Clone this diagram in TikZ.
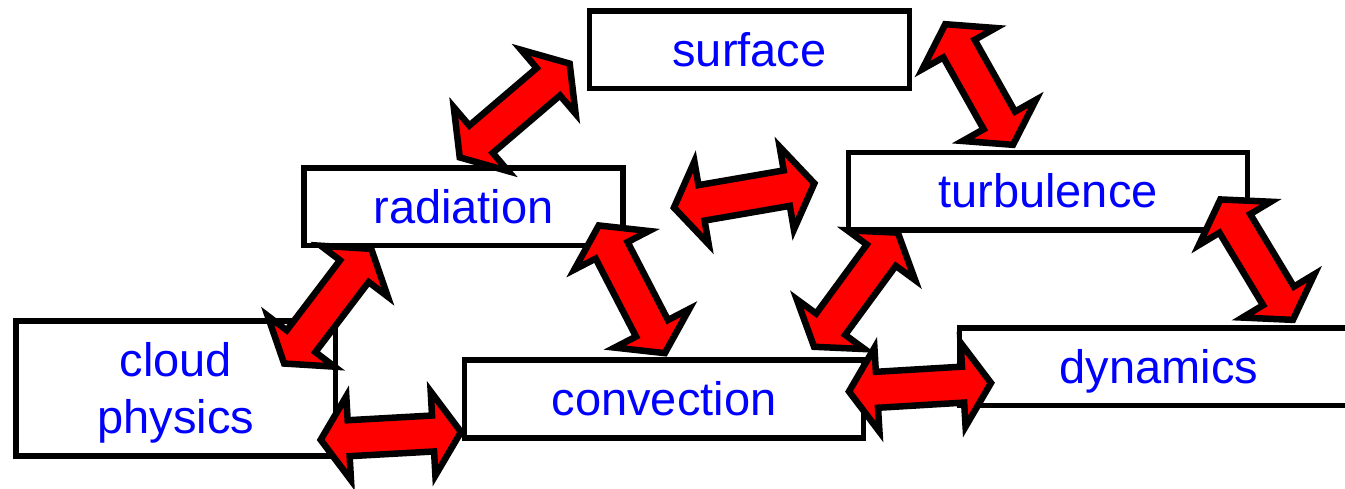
\documentclass[tikz,border=0pt]{standalone}
\usepackage{fontspec}
\setmainfont{Liberation Sans}
\usetikzlibrary{calc}
\newcommand\lbfont{\fontsize{23.5pt}{28.5pt}\selectfont}
\newcommand\blockarr[2]{%
  \draw[barrow] ($(#1)!2pt!(#2)$)
   -- ($(#1)!16pt!(#2)!21pt!90:(#2)$)
   -- ($(#1)!16pt!(#2)!9pt!90:(#2)$)
   -- ($(#2)!16pt!(#1)!9pt!-90:(#1)$)
   -- ($(#2)!16pt!(#1)!21pt!-90:(#1)$)
   -- ($(#2)!2pt!(#1)$)
   -- ($(#2)!16pt!(#1)!21pt!90:(#1)$)
   -- ($(#2)!16pt!(#1)!9pt!90:(#1)$)
   -- ($(#1)!16pt!(#2)!9pt!-90:(#2)$)
   -- ($(#1)!16pt!(#2)!21pt!-90:(#2)$)
   -- cycle;}
\tikzset{
  box/.style={draw=black, line width=2.75pt, fill=white, inner sep=0pt,
    text=blue, font=\lbfont, text height=16.8pt, text depth=0pt},
  smallbox/.style={box, minimum width=160pt, minimum height=38.75pt},
  widebox/.style={box, minimum width=199.5pt, minimum height=38.75pt},
  barrow/.style={draw=black, fill=red, line width=3.25pt, line join=miter, miter limit=10}
}
\begin{document}
\begin{tikzpicture}[x=0.5pt, y=-0.5pt]
\clip (0,0) rectangle (1345,488);
\fill[white] (0,0) rectangle (1345,488);
% boxes
\node[smallbox] (surface) at (749.5,49.75) {surface};
\node[smallbox, minimum width=159.5pt] (radiation) at (463.5,206.75) {radiation};
\node[widebox] (turbulence) at (1048,191) {turbulence};
\node[box, minimum width=159.75pt, minimum height=67.5pt, align=center,
      text height=45.3pt, text depth=0pt] (cloud) at (175.75,388.5) {cloud\\physics};
\node[widebox, minimum height=39pt] (convection) at (664,399) {convection};
\node[widebox] (dynamics) at (1159,366.75) {dynamics};
% arrow end points
\coordinate (a1s) at (456.7,160);   \coordinate (a1e) at (572.7,61);
\coordinate (a2s) at (281.7,366.7); \coordinate (a2e) at (373.7,245.7);
\coordinate (a3s) at (316.7,440);   \coordinate (a3e) at (465,431.7);
\coordinate (a4s) at (596.9,221.9); \coordinate (a4e) at (666.7,356.7);
\coordinate (a5s) at (670,208.3);   \coordinate (a5e) at (818.3,182.7);
\coordinate (a6s) at (943.3,20.7);  \coordinate (a6e) at (1015,148.3);
\coordinate (a7s) at (811.7,350);   \coordinate (a7e) at (900.2,229.4);
\coordinate (a8s) at (845,391.7);   \coordinate (a8e) at (995,382.7);
\coordinate (a9s) at (1218.3,196);  \coordinate (a9e) at (1295,323.3);
% arrows
\blockarr{a1s}{a1e}
\blockarr{a2s}{a2e}
\blockarr{a3s}{a3e}
\blockarr{a4s}{a4e}
\blockarr{a5s}{a5e}
\blockarr{a6s}{a6e}
\blockarr{a7s}{a7e}
\blockarr{a8s}{a8e}
\blockarr{a9s}{a9e}
\end{tikzpicture}
\end{document}
